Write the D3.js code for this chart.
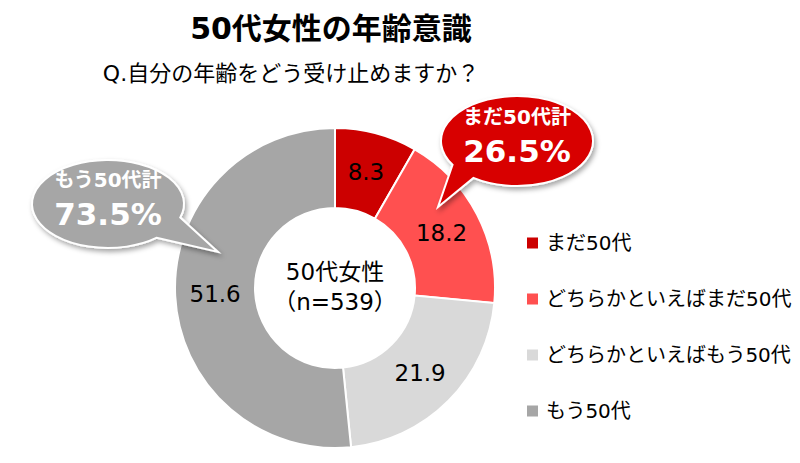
<!DOCTYPE html>
<html>
<head>
<meta charset="utf-8">
<script src="https://cdn.jsdelivr.net/npm/d3@7"></script>
<style>
  body { margin: 0; background: #fff; }
  svg { font-family: "DejaVu Sans", "Noto Sans CJK JP", sans-serif; }
</style>
</head>
<body>
<div id="chart"></div>
<script>
// data
const categories = ["まだ50代", "どちらかといえばまだ50代", "どちらかといえばもう50代", "もう50代"];
const values = [8.3, 18.2, 21.9, 51.6];
const colors = ["#cc0000", "#ff5050", "#d9d9d9", "#a6a6a6"];
const totalLabels = ["まだ50代計", "もう50代計"];
const centerLines = ["50代女性", "（n=539）"];

const width = 800, height = 463;

const svg = d3.select("#chart")
    .append("svg")
    .attr("width", width)
    .attr("height", height);

// shadow for the bubbles
const defs = svg.append("defs");
defs.append("filter")
    .attr("id", "shadow")
    .attr("x", "-20%").attr("y", "-20%")
    .attr("width", "150%").attr("height", "160%")
    .append("feDropShadow")
    .attr("dx", 2).attr("dy", 3)
    .attr("stdDeviation", 2.5)
    .attr("flood-color", "#000")
    .attr("flood-opacity", 0.35);

// titles
svg.append("text")
    .attr("x", 331).attr("y", 39)
    .attr("text-anchor", "middle")
    .attr("font-size", "30px")
    .attr("font-weight", "bold")
    .attr("fill", "#000")
    .text("50代女性の年齢意識");

svg.append("text")
    .attr("x", 291).attr("y", 81)
    .attr("text-anchor", "middle")
    .attr("font-size", "22px")
    .attr("fill", "#000")
    .text("Q.自分の年齢をどう受け止めますか？");

// donut
const cx = 335, cy = 288;
const pie = d3.pie().sort(null).value(d => d);
const arcs = pie(values);
const arc = d3.arc().innerRadius(80).outerRadius(160);

const g = svg.append("g").attr("transform", `translate(${cx},${cy})`);

g.selectAll("path")
    .data(arcs)
    .enter().append("path")
    .attr("d", arc)
    .attr("fill", (d, i) => colors[i])
    .attr("stroke", "#fff")
    .attr("stroke-width", 2);

g.selectAll("text.val")
    .data(arcs)
    .enter().append("text")
    .attr("class", "val")
    .attr("transform", d => `translate(${arc.centroid(d)})`)
    .attr("text-anchor", "middle")
    .attr("dy", "0.36em")
    .attr("font-size", "23px")
    .attr("fill", "#000")
    .text(d => d3.format(".1f")(d.data));

g.selectAll("text.center")
    .data(centerLines)
    .enter().append("text")
    .attr("class", "center")
    .attr("x", 0)
    .attr("y", (d, i) => -8 + i * 30)
    .attr("text-anchor", "middle")
    .attr("font-size", "23px")
    .attr("fill", "#000")
    .text(d => d);

// callout bubbles
const totals = [values[0] + values[1], values[2] + values[3]];
const bubbles = [
    { cx: 517, cy: 141, rx: 76, ry: 45, a1: 148, a2: 125, tip: [438, 207], fill: "#d80000" },
    { cx: 108, cy: 204, rx: 76, ry: 44, a1: 50, a2: 18, tip: [218, 252], fill: "#a6a6a6" }
];

function bubblePath(b) {
    const p = a => [b.cx + b.rx * Math.cos(a * Math.PI / 180), b.cy + b.ry * Math.sin(a * Math.PI / 180)];
    const s = p(b.a1), e = p(b.a2);
    return `M${s[0]},${s[1]} A${b.rx},${b.ry} 0 1 1 ${e[0]},${e[1]} L${b.tip[0]},${b.tip[1]} Z`;
}

const bub = svg.selectAll("g.bubble")
    .data(bubbles)
    .enter().append("g")
    .attr("class", "bubble");

bub.append("path")
    .attr("d", bubblePath)
    .attr("fill", d => d.fill)
    .attr("stroke", "#fff")
    .attr("stroke-width", 2)
    .attr("filter", "url(#shadow)");

bub.append("text")
    .attr("x", d => d.cx)
    .attr("y", d => d.cy - 17)
    .attr("text-anchor", "middle")
    .attr("font-size", "20px")
    .attr("font-weight", "bold")
    .attr("fill", "#fff")
    .text((d, i) => totalLabels[i]);

bub.append("text")
    .attr("x", d => d.cx)
    .attr("y", d => d.cy + 21)
    .attr("text-anchor", "middle")
    .attr("font-size", "31px")
    .attr("font-weight", "bold")
    .attr("fill", "#fff")
    .text((d, i) => d3.format(".1f")(totals[i]) + "%");

// legend
const legend = svg.append("g")
    .selectAll("g")
    .data(categories)
    .enter().append("g")
    .attr("transform", (d, i) => `translate(527,${243 + i * 56})`);

legend.append("rect")
    .attr("x", 0).attr("y", -5.5)
    .attr("width", 11).attr("height", 11)
    .attr("fill", (d, i) => colors[i]);

legend.append("text")
    .attr("x", 19)
    .attr("dy", "0.36em")
    .attr("font-size", "20px")
    .attr("fill", "#000")
    .text(d => d);
</script>
</body>
</html>
